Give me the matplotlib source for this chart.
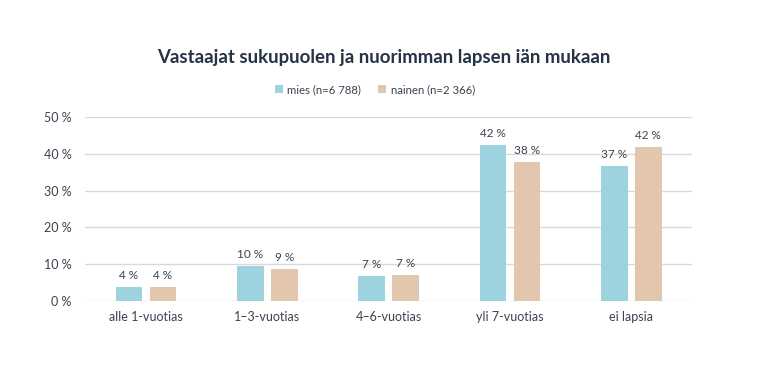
import matplotlib
matplotlib.use("Agg")
import matplotlib.pyplot as plt
import numpy as np

categories = ["alle 1-vuotias", "1–3-vuotias", "4–6-vuotias", "yli 7-vuotias", "ei lapsia"]
mies = [3.8, 9.5, 6.9, 42.3, 36.8]
nainen = [3.9, 8.8, 7.1, 37.7, 41.9]
series_names = ["mies (n=6 788)", "nainen (n=2 366)"]
yticks = [0, 10, 20, 30, 40, 50]

plt.rcParams['font.family'] = ['Lato', 'DejaVu Sans']
text_color = "#3a4250"

fig = plt.figure(figsize=(7.68, 3.8), dpi=100)
ax = fig.add_axes([0.111, 0.208, 0.79, 0.484])

x = np.arange(len(categories))
w = 0.22
off = 0.14
b1 = ax.bar(x - off, mies, w, color="#9dd3de", label=series_names[0], zorder=3)
b2 = ax.bar(x + off, nainen, w, color="#e3c6ae", label=series_names[1], zorder=3)

for bars, vals in ((b1, mies), (b2, nainen)):
    for rect, v in zip(bars, vals):
        ax.text(rect.get_x() + rect.get_width() / 2, v + 1.6, f"{round(v):d} %",
                ha="center", va="bottom", fontsize=8.5, color=text_color)

ax.set_xlim(-0.5, len(categories) - 0.5)
ax.set_ylim(0, 50)
ax.set_yticks(yticks)
ax.set_yticklabels([f"{t} %" for t in yticks])
ax.set_xticks(x)
ax.set_xticklabels(categories)
ax.tick_params(axis="both", length=0, labelsize=9, colors=text_color)
ax.tick_params(axis="y", pad=10)
ax.tick_params(axis="x", pad=7)
ax.yaxis.grid(True, color="#d9d9d9", linewidth=1, zorder=0)
for s in ax.spines.values():
    s.set_visible(False)

fig.text(0.5, 0.85, "Vastaajat sukupuolen ja nuorimman lapsen iän mukaan",
         ha="center", va="center", fontsize=13.4, fontweight="bold", color="#253445")
fig.legend(handles=[b1, b2], labels=series_names, loc="center", bbox_to_anchor=(0.488, 0.765),
           ncol=2, frameon=False, fontsize=8.2, handlelength=0.7, handleheight=0.7,
           handletextpad=0.4, columnspacing=1.5, labelcolor=text_color)

fig.savefig("out.png", dpi=100)
